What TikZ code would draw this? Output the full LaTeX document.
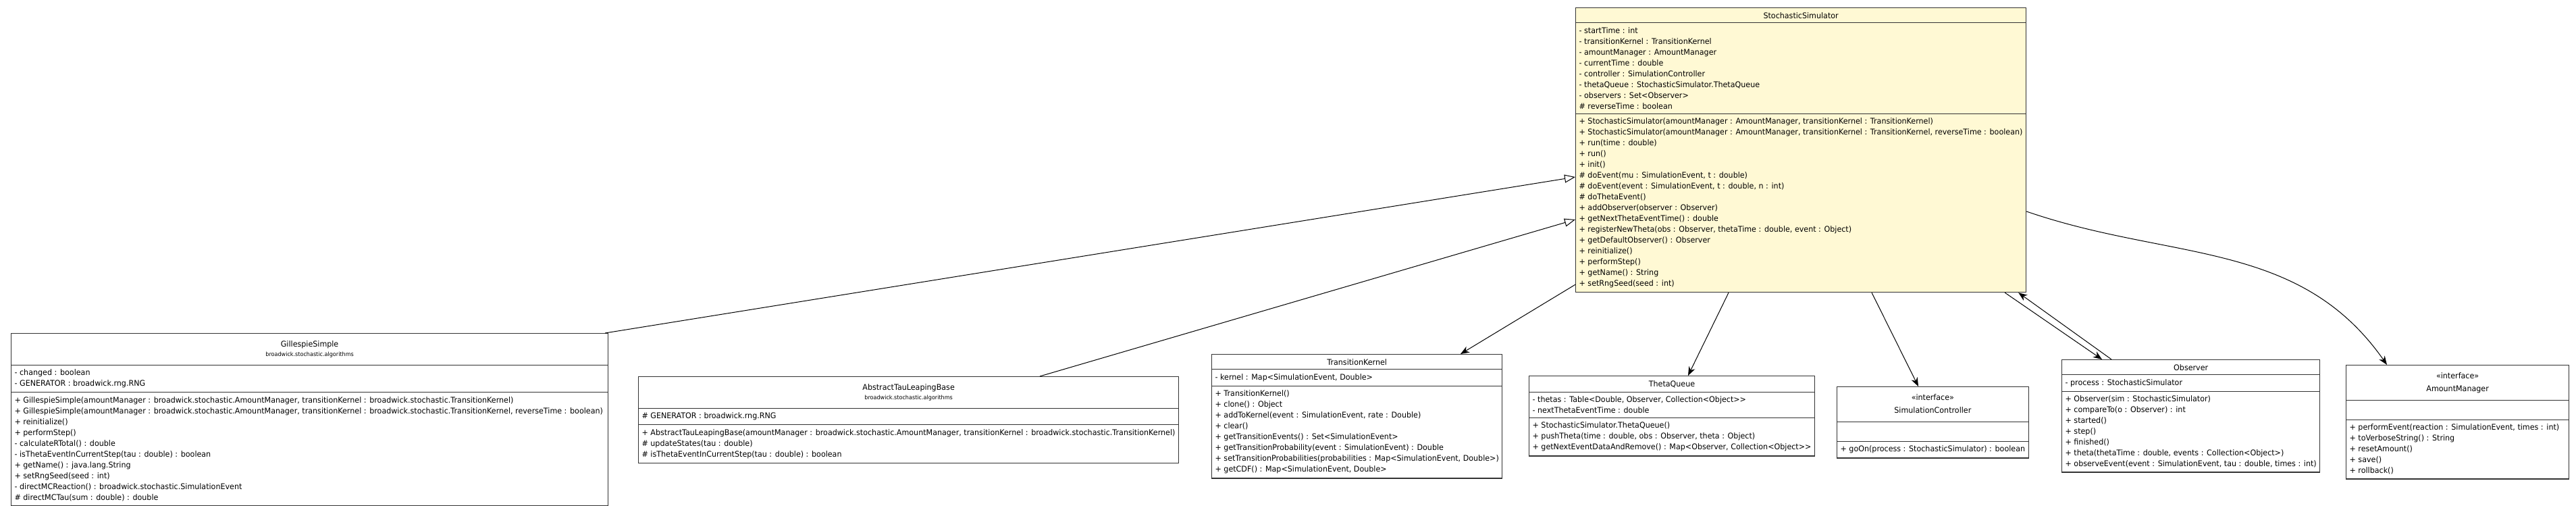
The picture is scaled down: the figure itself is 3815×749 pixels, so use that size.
\documentclass[tikz,border=0pt]{standalone}
\usepackage{fontspec}
\setmainfont[FakeStretch=0.95]{DejaVu Sans}
\usetikzlibrary{arrows.meta,shapes.multipart}
\definecolor{simyellow}{RGB}{255,249,212}
\newcommand{\ctitle}[1]{{\renewcommand{\arraystretch}{1.2}\begin{tabular}{@{}c@{}}#1\end{tabular}}}
\newcommand{\pkgname}[1]{{\fontsize{8.5}{10}\selectfont #1}}
\tikzset{
  class_/.style   = {shape=rectangle split, rectangle split parts=3, draw=black!80,
                     line width=1.2pt, anchor=north west, align=left,
                     rectangle split part align={center,left,left},
                     inner xsep=5pt, inner ysep=6pt},
  active_/.style  = {class_, fill=simyellow},
  extends_/.style = {draw, line width=1pt, -{Triangle[open, length=16pt, width=12pt, fill=white]}},
  uses_/.style    = {draw, line width=1pt, -{Stealth[length=13pt, width=10pt, inset=4pt]}}
}

\begin{document}
\begin{tikzpicture}
  [
    x                 = 1pt,
    y                 = -1pt,
    every node/.style = {font=\fontsize{11.7}{16}\selectfont}
  ]
  \useasboundingbox (0,0) rectangle (3815,749);

  \node [active_, minimum width=667pt] (ss) at (2333,11)
    {StochasticSimulator
     \nodepart{two}
     - startTime : int\\
     - transitionKernel : TransitionKernel\\
     - amountManager : AmountManager\\
     - currentTime : double\\
     - controller : SimulationController\\
     - thetaQueue : StochasticSimulator.ThetaQueue\\
     - observers : Set<Observer>\\
     \# reverseTime : boolean
     \nodepart{three}
     + StochasticSimulator(amountManager : AmountManager, transitionKernel : TransitionKernel)\\
     + StochasticSimulator(amountManager : AmountManager, transitionKernel : TransitionKernel, reverseTime : boolean)\\
     + run(time : double)\\
     + run()\\
     + init()\\
     \# doEvent(mu : SimulationEvent, t : double)\\
     \# doEvent(event : SimulationEvent, t : double, n : int)\\
     \# doThetaEvent()\\
     + addObserver(observer : Observer)\\
     + getNextThetaEventTime() : double\\
     + registerNewTheta(obs : Observer, thetaTime : double, event : Object)\\
     + getDefaultObserver() : Observer\\
     + reinitialize()\\
     + performStep()\\
     + getName() : String\\
     + setRngSeed(seed : int)};

  \node [class_, minimum width=884pt] (gs) at (16,493)
    {\ctitle{GillespieSimple\\[-5pt]\pkgname{broadwick.stochastic.algorithms}}
     \nodepart{two}
     - changed : boolean\\
     - GENERATOR : broadwick.rng.RNG
     \nodepart{three}
     + GillespieSimple(amountManager : broadwick.stochastic.AmountManager, transitionKernel : broadwick.stochastic.TransitionKernel)\\
     + GillespieSimple(amountManager : broadwick.stochastic.AmountManager, transitionKernel : broadwick.stochastic.TransitionKernel, reverseTime : boolean)\\
     + reinitialize()\\
     + performStep()\\
     - calculateRTotal() : double\\
     - isThetaEventInCurrentStep(tau : double) : boolean\\
     + getName() : java.lang.String\\
     + setRngSeed(seed : int)\\
     - directMCReaction() : broadwick.stochastic.SimulationEvent\\
     \# directMCTau(sum : double) : double};

  \node [class_, minimum width=800pt] (atlb) at (945,557)
    {\ctitle{AbstractTauLeapingBase\\[-5pt]\pkgname{broadwick.stochastic.algorithms}}
     \nodepart{two}
     \# GENERATOR : broadwick.rng.RNG
     \nodepart{three}
     + AbstractTauLeapingBase(amountManager : broadwick.stochastic.AmountManager, transitionKernel : broadwick.stochastic.TransitionKernel)\\
     \# updateStates(tau : double)\\
     \# isThetaEventInCurrentStep(tau : double) : boolean};

  \node [class_, minimum width=424pt] (tk) at (1794,524)
    {TransitionKernel
     \nodepart{two}
     - kernel : Map<SimulationEvent, Double>
     \nodepart{three}
     + TransitionKernel()\\
     + clone() : Object\\
     + addToKernel(event : SimulationEvent, rate : Double)\\
     + clear()\\
     + getTransitionEvents() : Set<SimulationEvent>\\
     + getTransitionProbability(event : SimulationEvent) : Double\\
     + setTransitionProbabilities(probabilities : Map<SimulationEvent, Double>)\\
     + getCDF() : Map<SimulationEvent, Double>};

  \node [class_, minimum width=412pt] (tq) at (2264,556)
    {ThetaQueue
     \nodepart{two}
     - thetas : Table<Double, Observer, Collection<Object>{}>\\
     - nextThetaEventTime : double
     \nodepart{three}
     + StochasticSimulator.ThetaQueue()\\
     + pushTheta(time : double, obs : Observer, theta : Object)\\
     + getNextEventDataAndRemove() : Map<Observer, Collection<Object>{}>};

  \node [class_, minimum width=280pt] (sc) at (2720,572)
    {\ctitle{«interface»\\SimulationController}
     \nodepart{two}
     \strut
     \nodepart{three}
     + goOn(process : StochasticSimulator) : boolean};

  \node [class_, minimum width=379pt] (obs) at (3053,532)
    {Observer
     \nodepart{two}
     - process : StochasticSimulator
     \nodepart{three}
     + Observer(sim : StochasticSimulator)\\
     + compareTo(o : Observer) : int\\
     + started()\\
     + step()\\
     + finished()\\
     + theta(thetaTime : double, events : Collection<Object>)\\
     + observeEvent(event : SimulationEvent, tau : double, times : int)};

  \node [class_, minimum width=330pt] (am) at (3474,540)
    {\ctitle{«interface»\\AmountManager}
     \nodepart{two}
     \strut
     \nodepart{three}
     + performEvent(reaction : SimulationEvent, times : int)\\
     + toVerboseString() : String\\
     + resetAmount()\\
     + save()\\
     + rollback()};

  \draw [extends_] ([xshift=-5pt]gs.north east) -- ([yshift=-251pt]ss.north west);
  \draw [extends_] ([xshift=595pt]atlb.north west) -- ([yshift=-314pt]ss.north west);
  \draw [uses_] ([yshift=12pt]ss.south west) -- ([xshift=369pt]tk.north west);
  \draw [uses_] ([xshift=227pt]ss.south west) -- ([xshift=236pt]tq.north west);
  \draw [uses_] ([xshift=439pt]ss.south west) -- ([xshift=121pt]sc.north west);
  \draw [uses_] ([xshift=-32pt]ss.south east) -- ([xshift=60pt]obs.north west);
  \draw [uses_] ([xshift=74pt]obs.north west) -- ([xshift=-12pt]ss.south east);
  \draw [uses_] ([yshift=-302pt]ss.north east) to [out=-19, in=125] ([xshift=61pt]am.north west);
\end{tikzpicture}
\end{document}
